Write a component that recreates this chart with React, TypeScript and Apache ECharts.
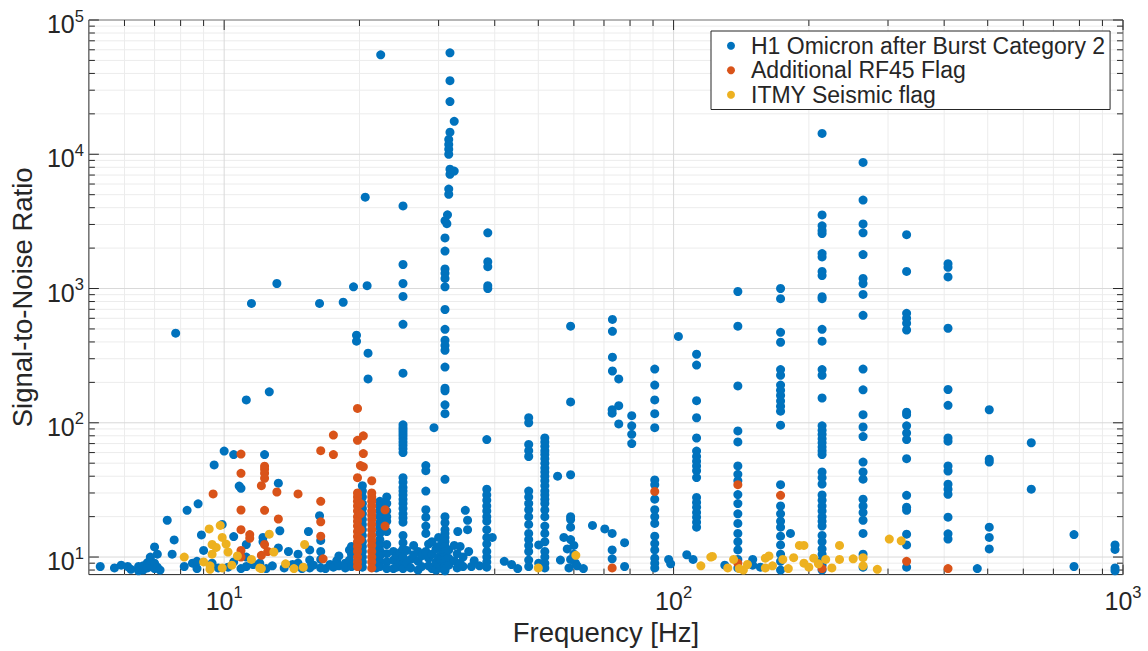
import React, { useEffect, useRef } from "react";
import * as echarts from "echarts";

type Column = [number, number[]];

// H1 Omicron triggers after Burst Category 2 vetoes, grouped by frequency: [Hz, SNR values]
const omicronLowFreq: Column[] = [
  [5.3, [8.5]], [5.7, [8.3]], [5.9, [8.7]], [6.1, [8.5]], [6.2, [8.1]],
  [6.45, [8.5, 7.9]], [6.6, [8.0, 8.6]], [6.75, [9.1, 8.3]], [6.85, [10.0, 8.6, 9.5]],
  [7.0, [11.9, 9.0, 8.2]], [7.1, [10.5, 8.4]], [7.2, [8.0]], [7.47, [18.8]], [7.66, [10.5]],
  [7.74, [13.4]], [7.8, [465]], [8.15, [8.5]], [8.27, [22.3]], [8.5, [9.0]], [8.7, [8.2, 9.3]],
  [8.75, [24.9]], [8.9, [14.6]], [9.0, [11.2]], [9.4, [9.0]], [9.5, [48.5]], [9.7, [8.3]],
  [9.9, [17.5]], [10.0, [61.6]], [10.2, [8.4]], [10.5, [58, 14.2, 9.2]], [10.8, [33.8]],
  [10.9, [32.5, 8.2]], [11.2, [148, 12.4, 10.0, 8.5]], [11.5, [775]], [11.6, [8.8]],
  [12.0, [9.0]], [12.2, [14.0, 13.0]], [12.3, [58]], [12.4, [8.2]], [12.6, [170]], [12.8, [8.6]],
  [13.1, [1090]], [13.2, [35.5, 11.7]], [13.3, [15.7]], [13.6, [8.3]], [13.9, [11]], [14.2, [8.8]],
  [14.6, [10.5, 9.0]], [14.9, [8.2]], [15.4, [15.5]], [15.5, [11.3, 9.5, 8.3]], [15.8, [8.7]],
  [16.3, [775, 20.3]], [16.4, [13.3, 11.0, 9.6, 8.3]], [16.8, [8.2]], [17.2, [8.8]], [17.5, [8.4]],
  [17.8, [9.4]], [18.0, [10.2, 8.6]], [18.4, [790]], [18.6, [9.0, 8.3]], [19.0, [11.3, 9.5]],
  [19.2, [8.5, 10.5, 12.0]], [19.4, [1030]], [19.7, [449, 405]],
];

const omicronMidFreq: Column[] = [
  [20.3, [34, 31, 28, 25, 23, 21, 19, 17.5, 16, 14.5, 13, 12, 11, 10, 9.2, 8.4]],
  [20.6, [4790]], [20.8, [1050]], [20.9, [330, 212]], [21.8, [12.5, 10.8, 9.4, 8.3]],
  [22.2, [26, 24, 22, 20, 18, 16.5, 15, 13.5, 12.3, 11.2, 10.2, 9.3, 8.5]],
  [22.3, [55000]],
  [23.0, [28, 25, 22, 20, 18.5, 15.5, 12.4, 10.6, 9.2, 8.2]],
  [23.8, [9.5, 8.2, 11.0]], [24.2, [8.4, 10.2]], [24.6, [10.8, 9.0]],
  [25.0, [4120, 1510, 1090, 873, 541, 234, 96.6, 92, 88, 84, 80, 76, 72, 68, 64, 60, 39, 36, 33, 31, 29, 27, 25, 23, 21, 19.5, 18.2, 14.5, 12.8, 11.5, 10, 8.9, 8.2]],
  [25.5, [9.0, 11.2]], [26.0, [8.3, 9.6]], [26.4, [12.2, 10.4]], [27.0, [9.3, 8.0, 11.0]],
  [27.5, [8.5, 10.2]],
  [28.1, [48, 44, 31, 22.5, 19.8, 17, 15, 11]], [28.5, [12.5, 9.8, 8.6]], [29.0, [13, 10.5, 8.2]],
  [29.3, [92]], [29.6, [11.5, 9.2, 8.0]], [30.0, [14, 10, 8.8, 12]], [30.3, [9.5, 8.4]],
  [30.6, [12.5, 11, 8.2]],
  [31.0, [3200, 2380, 1900, 1400, 1300, 1190, 1030, 698, 497, 412, 377, 347, 260, 181, 173, 136, 117, 37.9, 20, 18, 16, 15, 14, 13, 12, 11, 10.5, 10, 9.5, 9, 8.5, 8.2, 7.9]],
  [31.3, [3040]], [31.4, [3540]],
  [31.6, [12900, 11800, 10900, 10000, 5500, 5030, 11.3, 9.8, 8.7]],
  [31.8, [57000, 35300, 24700, 14600, 7740, 7100]],
  [32.5, [17600, 7500, 12.2, 9.4]],
  [33.0, [8.3, 10.6]], [33.1, [15.5]], [33.5, [12, 9.0]], [34.0, [10, 8.5]], [34.4, [22.3]],
  [34.8, [18.8, 16]], [35.0, [11]], [35.5, [8.5]], [36.0, [9.4]], [37.0, [8.6]],
  [38.4, [75, 32, 29, 26.5, 24, 22, 20, 18.5, 16, 14, 12.5, 11, 10, 9.2, 8.4]],
  [38.6, [2600, 1585, 1455, 1050, 1000]],
  [39.5, [14]], [42.0, [9.3]], [43.6, [8.8]], [45.0, [8.2]],
  [47.6, [109, 100, 69, 62, 56, 31, 28, 25, 22.5, 20, 17.5, 15, 13.5, 12.2, 11, 9.5, 8.5]],
  [50.1, [12.3, 9.0]],
  [51.7, [77, 72, 67, 62, 58, 54, 50, 46, 43, 40, 37, 34, 31, 29, 27, 25, 22.4, 20, 17, 15, 13, 11, 10, 9, 8.3]],
  [55.2, [40]], [56.0, [9.5]], [57.0, [14]], [58.0, [11.5]], [58.5, [8.3]],
  [59.0, [524, 143, 41, 20, 19, 16.7, 13.5, 9.6]],
  [60.0, [12.2, 10.5]], [60.5, [9.0]], [61.0, [8.6]], [63.0, [8.2]],
];

const omicronHighFreq: Column[] = [
  [66, [17.2]], [70.3, [16.2]], [73.0, [15, 11.3, 9.7, 125, 118]],
  [73.1, [589, 480, 308, 243]], [75.5, [212, 134, 98]], [77.8, [12.8, 8.5]],
  [80.7, [113, 95, 82, 70]],
  [90.8, [251, 191, 148, 117, 92, 37.5, 34.6, 27, 22.5, 20, 17.8, 14.3, 12.6, 11.3, 9.8, 9.0, 8.3]],
  [97.5, [9.6]], [98.5, [8.9]], [102.5, [440]], [107, [10.4]], [110.5, [9.6]],
  [112.5, [324, 269, 146, 109, 77, 61.6, 56, 51.6, 47.7, 43.9, 39.1, 27.8, 25.5, 23.5, 21.5, 19.8, 18.2, 16.7]],
  [130, [8.7]],
  [139, [950, 524, 188, 87, 72, 47.7, 41.3, 37, 29.2, 25, 21, 17.8, 15, 13, 11.3, 9.6, 8.3]],
  [150, [9.6, 8.7]], [156, [8.4]],
  [173, [1000, 840, 472, 398, 249, 226, 191, 175, 160, 145, 133, 122, 96, 34.6, 24, 21, 18.5, 16.7, 14.3, 12.3, 10.5, 9.3, 8.0]],
  [182, [15]],
  [214, [14300, 3530, 2930, 2710, 2570, 1820, 1720, 1340, 1250, 870, 840, 497, 405, 249, 226, 153, 95, 88, 82, 76, 71, 66, 62, 58, 43, 39, 35, 29, 26.5, 24, 22, 20, 18.5, 17, 14.5, 13, 11.5, 10.5, 9.5, 8.7, 8.0]],
  [264, [8690, 4560, 3030, 2600, 1790, 1190, 1090, 903, 631, 251, 176, 115, 93, 79, 51, 43, 38, 27, 24, 21.5, 18.8, 15, 10.5, 8.4]],
  [330, [2520, 1340, 653, 600, 551, 491, 120, 115, 95, 84, 75, 54, 28.8, 23.5, 22.3, 14.8, 12.3, 8.4]],
  [408, [1530, 1440, 1220, 506, 177, 135, 77, 73, 47.7, 43.7, 34.9, 32, 29.3, 19.8, 14.9, 13.6]],
  [474, [8.2]], [504, [125, 53.5, 51, 16.7, 14, 11.5]], [625, [71, 32]],
  [778, [14.7, 8.5]], [960, [12.3, 11.4, 8.3, 7.9]],
];

// Triggers additionally vetoed by the RF45 flag
const rf45Flag: Column[] = [
  [9.45, [29.5]], [10.9, [58.5, 42, 22.4, 16, 11.2, 10]], [11.4, [14.7, 13.8]], [12.1, [34, 10.3]],
  [12.3, [47.5, 45, 42, 38.6, 22.3, 12.4]], [12.5, [11]], [13.1, [30.5]], [13.2, [19.2]],
  [14.6, [29.5]], [16.4, [62, 26, 18.3, 14.3]], [16.6, [9.7]], [17.5, [81, 58]],
  [19.8, [128, 74, 39, 30, 28, 26, 24, 22, 20, 18.5, 17, 15.5, 14.2, 13, 12, 11, 10, 9.2, 8.5]],
  [20.1, [48, 25, 21, 16, 13.5]], [20.4, [80, 59, 47]],
  [21.3, [37, 30, 28, 26, 24, 22, 20.5, 19, 17.5, 16, 14.5, 13.3, 12.2, 11, 10, 9.2, 8.3]],
  [22.8, [22.5, 17]], [73, [8.3]], [90.8, [30.8]], [139, [34.6, 9.0]], [173, [28.8]],
  [214, [8.2]], [330, [9.3]], [408, [8.2]],
];

// Triggers flagged by the ITMY seismic channel
const itmySeismicFlag: Column[] = [
  [8.15, [10]], [9.0, [9.2]], [9.26, [16.2]], [9.3, [8.6, 8.1]], [9.4, [12.4, 10.5]], [9.6, [11.8]],
  [9.8, [17.2]], [9.9, [14, 8.3]], [10.1, [12.5]], [10.2, [10.9]], [10.4, [8.7]], [10.7, [10.2]],
  [11.5, [9.6]], [12.0, [8.3]], [12.1, [8.2]], [12.6, [14.8]], [12.9, [10.9]], [13.7, [8.9]],
  [14.3, [8.2]], [15.0, [8.4]], [15.1, [12.4]], [50.0, [8.3]], [60.6, [10.3]],
  [115, [8.6]], [121, [10.0]], [122, [10.1]], [132, [8.3]], [136, [9.6]], [140, [8.2]],
  [143, [8.0]], [146, [8.8]], [160, [9.8, 8.3]], [163, [10.2]], [166, [8.6]], [175, [9.6]],
  [180, [8.2]], [185, [9.9]], [190.5, [12.2]], [195, [12.2, 9.0]], [200, [8.4]], [205, [9.8]],
  [210, [8.9]], [218, [9.6]], [225, [8.3]], [234, [12.2, 9.6]], [251, [9.7]], [264, [9.9, 8.6]],
  [284, [8.1]], [302, [13.6]], [321, [13.2]],
];

const seriesNames = [
  "H1 Omicron after Burst Category 2",
  "Additional RF45 Flag",
  "ITMY Seismic flag",
];
const seriesColors = ["#0072BD", "#D95319", "#EDB120"];

const xRange = [5, 1000];
const yRange = [7.4, 100000];
const xMajorTicks = [10, 100, 1000];
const xMinorTicks = [6, 7, 8, 9, 20, 30, 40, 50, 60, 70, 80, 90, 200, 300, 400, 500, 600, 700, 800, 900];
const yMajorTicks = [10, 100, 1000, 10000, 100000];
const yMinorTicks = [
  8, 9, 20, 30, 40, 50, 60, 70, 80, 90, 200, 300, 400, 500, 600, 700, 800, 900,
  2000, 3000, 4000, 5000, 6000, 7000, 8000, 9000, 20000, 30000, 40000, 50000, 60000, 70000, 80000, 90000,
];

const FONT = "'Liberation Sans', Arial, Helvetica, sans-serif";
const INK = "#262626";

const toPoints = (cols: Column[]) =>
  cols.flatMap(([f, snrs]) => snrs.map((s) => [f, s]));

const powerLabel = (v: number) => {
  const e = Math.log10(v);
  const n = Math.round(e);
  if (Math.abs(e - n) > 1e-6) return "";
  return `{b|10}{s|${n}}`;
};

const labelRich = {
  b: { fontSize: 25, fontFamily: FONT, color: INK, lineHeight: 34 },
  s: { fontSize: 16.5, fontFamily: FONT, color: INK, lineHeight: 18, verticalAlign: "top" },
};

export default function App() {
  const ref = useRef<HTMLDivElement>(null);

  useEffect(() => {
    if (!ref.current) return;
    const chart = echarts.init(ref.current, undefined, { renderer: "svg" });

    // grid lines and inward ticks on all four sides, placed through the axis scales
    const renderFrame = (params: any, api: any) => {
      if (params.dataIndex !== 0) return null;
      const [left, bottom] = api.coord([xRange[0], yRange[0]]);
      const [right, top] = api.coord([xRange[1], yRange[1]]);
      const children: any[] = [];
      const seg = (x1: number, y1: number, x2: number, y2: number, stroke: string) =>
        children.push({
          type: "line",
          silent: true,
          shape: { x1, y1, x2, y2 },
          style: { stroke, lineWidth: 1 },
        });
      for (const v of xMinorTicks) {
        const x = api.coord([v, yRange[0]])[0];
        seg(x, top, x, bottom, "#ececec");
      }
      for (const v of yMinorTicks) {
        const y = api.coord([xRange[0], v])[1];
        seg(left, y, right, y, "#ececec");
      }
      for (const v of xMajorTicks) {
        const x = api.coord([v, yRange[0]])[0];
        seg(x, top, x, bottom, "#d9d9d9");
      }
      for (const v of yMajorTicks) {
        const y = api.coord([xRange[0], v])[1];
        seg(left, y, right, y, "#d9d9d9");
      }
      const ticksX = (vals: number[], len: number) => {
        for (const v of vals) {
          const x = api.coord([v, yRange[0]])[0];
          seg(x, bottom, x, bottom - len, INK);
          seg(x, top, x, top + len, INK);
        }
      };
      const ticksY = (vals: number[], len: number) => {
        for (const v of vals) {
          const y = api.coord([xRange[0], v])[1];
          seg(left, y, left + len, y, INK);
          seg(right, y, right - len, y, INK);
        }
      };
      ticksX(xMinorTicks, 6);
      ticksX(xMajorTicks, 10);
      ticksY(yMinorTicks, 6);
      ticksY(yMajorTicks, 10);
      return { type: "group", children };
    };

    const scatter = (name: string, color: string, cols: Column[]) => ({
      type: "scatter",
      name,
      data: toPoints(cols),
      symbol: "circle",
      symbolSize: 9,
      itemStyle: { color, opacity: 1 },
      z: 3,
      silent: true,
    });

    chart.setOption({
      animation: false,
      backgroundColor: "#ffffff",
      grid: {
        left: 87,
        right: 25,
        top: 20,
        bottom: 73,
        show: true,
        backgroundColor: "#ffffff",
        borderColor: INK,
        borderWidth: 1,
      },
      xAxis: {
        type: "log",
        logBase: 10,
        min: xRange[0],
        max: xRange[1],
        name: "Frequency [Hz]",
        nameLocation: "middle",
        nameGap: 39,
        nameTextStyle: { fontSize: 27.5, fontFamily: FONT, color: INK },
        axisLine: { show: false },
        axisTick: { show: false },
        splitLine: { show: false },
        axisLabel: {
          formatter: powerLabel,
          margin: 9,
          rich: labelRich,
          showMinLabel: false,
        },
      },
      yAxis: {
        type: "log",
        logBase: 10,
        min: yRange[0],
        max: yRange[1],
        name: "Signal-to-Noise Ratio",
        nameLocation: "middle",
        nameGap: 50,
        nameTextStyle: { fontSize: 27.5, fontFamily: FONT, color: INK },
        axisLine: { show: false },
        axisTick: { show: false },
        splitLine: { show: false },
        axisLabel: {
          formatter: powerLabel,
          margin: 5,
          rich: labelRich,
          padding: [8, 0, 0, 0],
          showMinLabel: false,
        },
      },
      legend: {
        data: seriesNames,
        orient: "vertical",
        left: 711,
        top: 31,
        padding: [3, 5, 3, 16],
        itemGap: 1,
        itemWidth: 8,
        itemHeight: 8,
        icon: "circle",
        backgroundColor: "#ffffff",
        borderColor: INK,
        borderWidth: 1,
        borderRadius: 0,
        selectedMode: false,
        textStyle: {
          fontSize: 23,
          fontFamily: FONT,
          color: INK,
          lineHeight: 23.5,
          padding: [0, 0, 0, 11],
        },
      },
      series: [
        {
          type: "custom",
          name: "frame",
          coordinateSystem: "cartesian2d",
          data: [[10, 10]],
          renderItem: renderFrame,
          silent: true,
          clip: false,
          z: 1,
        },
        scatter(seriesNames[0], seriesColors[0], [...omicronLowFreq, ...omicronMidFreq, ...omicronHighFreq]),
        scatter(seriesNames[1], seriesColors[1], rf45Flag),
        scatter(seriesNames[2], seriesColors[2], itmySeismicFlag),
      ],
    });

    return () => chart.dispose();
  }, []);

  return (
    <div
      ref={ref}
      style={{ position: "fixed", left: 0, top: 0, width: 1148, height: 651, background: "#fff" }}
    />
  );
}
